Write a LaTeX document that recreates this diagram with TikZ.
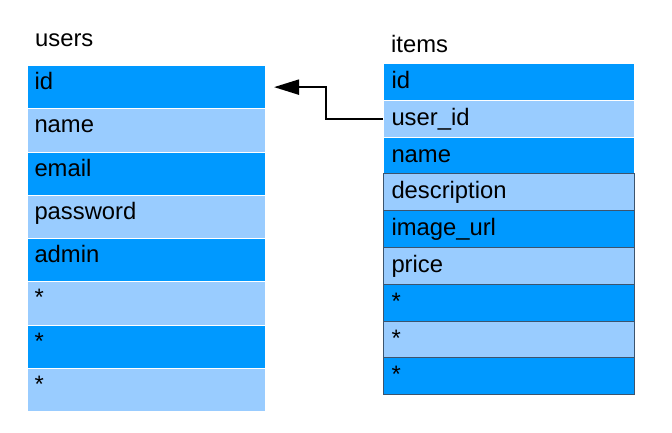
\documentclass[tikz,border=0pt]{standalone}
\usepackage{fontspec}
\setmainfont{Liberation Sans}
\usetikzlibrary{arrows.meta}
\definecolor{darkrow}{RGB}{0,153,255}
\definecolor{lightrow}{RGB}{153,204,255}
\definecolor{rowline}{RGB}{60,84,110}
\begin{document}
\begin{tikzpicture}[x=1pt,y=-1pt,
every node/.style={font=\fontsize{23.8}{28}\selectfont},
tabletitle/.style={anchor=base west, inner sep=0pt},
userrow/.style={anchor=north west, inner xsep=7pt, inner ysep=0pt, text width=224pt, align=left,
	text height=24pt, text depth=19.25pt, draw=white, line width=1pt},
itemrow/.style={anchor=north west, inner xsep=8pt, inner ysep=0pt, text width=235pt, align=left,
	text height=25pt, text depth=11.8pt, draw=white, line width=1pt},
link/.style={line width=2pt, -{Triangle[length=25pt,width=15pt]}}]
\useasboundingbox (0,0) rectangle (672,432);

%table titles
\node[tabletitle] (userstitle) at (35,46) {users};
\node[tabletitle] (itemstitle) at (391,52) {items};

%users table, rows alternate dark/light
\foreach \field [count=\n] in {id,name,email,password,admin,*,*,*}{
	\ifodd\n \def\rowfill{darkrow}\else \def\rowfill{lightrow}\fi
	\node[userrow, fill=\rowfill] (u\n) at (27,{65+43.25*(\n-1)}) {\field};
}

%items table, rows from 4 on have a dark border
\foreach \field [count=\n] in {id,user\_id,name,description,image\_url,price,*,*,*}{
	\ifodd\n \def\rowfill{darkrow}\else \def\rowfill{lightrow}\fi
	\ifnum\n>3 \def\rowdraw{rowline}\else \def\rowdraw{white}\fi
	\node[itemrow, fill=\rowfill, draw=\rowdraw] (i\n) at (383,{63+36.8*(\n-1)}) {\field};
}

%foreign key user_id -> id
\draw[link] (i2.west) -- ++(-57pt,0) |- ([xshift=8pt]u1.east);
\end{tikzpicture}
\end{document}
